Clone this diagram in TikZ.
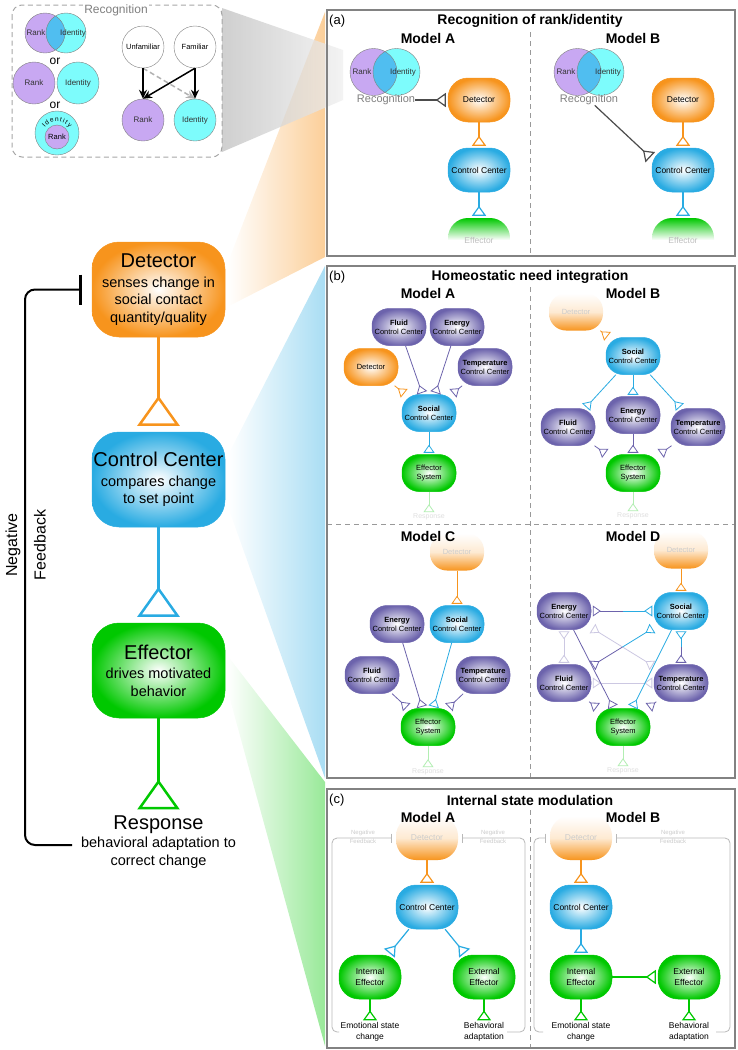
\documentclass[tikz,border=0pt]{standalone}
\usepackage{fontspec}
\setmainfont{Liberation Sans}
\usetikzlibrary{arrows.meta,decorations.text}

\begin{document}
\begin{tikzpicture}[x=1pt,y=-1pt,
  every node/.style={inner sep=0pt},
  panelframe/.style={draw=framegray, line width=1.5pt},
  divider/.style={draw=gray!80, line width=0.9pt, dash pattern=on 5pt off 4pt},
  ttl/.style={font=\bfseries\fontsize{14}{16}\selectfont},
  paneltag/.style={anchor=west, font=\fontsize{13}{15}\selectfont},
  mnode/.style={rounded corners=27pt, minimum width=133pt, minimum height=95pt, align=center, font=\fontsize{14.5}{17.5}\selectfont, line width=0.5pt},
  anode/.style={rounded corners=20pt, minimum width=62pt, minimum height=44pt, align=center, font=\fontsize{8.5}{10.5}\selectfont, line width=0.5pt},
  pnode/.style={rounded corners=17pt, minimum width=54pt, minimum height=37pt, align=center, font=\fontsize{7.5}{9}\selectfont, line width=0.5pt},
  det/.style={inner color=white, outer color=detorange, draw=detorange},
  cc/.style={inner color=white, outer color=ccblue, draw=ccblue},
  eff/.style={inner color=white, outer color=effgreen, draw=effgreen},
  hom/.style={inner color=white, outer color=hompurple, draw=hompurple},
  detfade/.style={top color=white, bottom color=detorange, middle color=detorange!20, text=gray!40},
  efffade/.style={top color=effgreen, bottom color=white, middle color=white, text=gray!50},
  bigtip/.style={line width=2.5pt, -{Triangle[open, reversed, length=30pt, width=42pt]}, shorten >=6pt},
  midtip/.style={line width=1.2pt, -{Triangle[open, reversed, length=10pt, width=14pt]}, shorten >=2pt},
  smalltip/.style={line width=0.8pt, -{Triangle[open, reversed, length=8pt, width=11pt]}, shorten >=1.5pt},
  bothtip/.style={line width=0.8pt, {Triangle[open, reversed, length=8pt, width=11pt]}-{Triangle[open, reversed, length=8pt, width=11pt]}, shorten >=1.5pt, shorten <=1.5pt},
  faint/.style={draw=hompurple!35},
  resp/.style={font=\fontsize{7}{8}\selectfont, text=gray!25},
  fbline/.style={draw=gray!55, line width=0.8pt, rounded corners=5pt, -{Bar[width=9pt]}},
  fbtext/.style={font=\fontsize{6}{9.5}\selectfont, text=gray!40, align=center},
  smalltext/.style={font=\fontsize{8.5}{11}\selectfont, align=center},
  vennlabel/.style={font=\fontsize{8}{9}\selectfont, text=black!80},
  recline/.style={draw=gray!60!black},
  recarrow/.style={line width=1.5pt, -{Stealth[length=9pt, width=8pt]}}]
\definecolor{detorange}{RGB}{247,148,29}
\definecolor{ccblue}{RGB}{41,171,226}
\definecolor{effgreen}{RGB}{0,200,0}
\definecolor{hompurple}{RGB}{108,99,172}
\definecolor{rankpurple}{RGB}{200,168,242}
\definecolor{idcyan}{RGB}{125,252,252}
\definecolor{bothblue}{RGB}{80,190,240}
\definecolor{framegray}{RGB}{130,130,130}
\useasboundingbox (0,0) rectangle (738,1050);

\shade[left color=white, right color=detorange!45] (228,262) -- (325,12) -- (325,257) -- (227,307) -- cycle;
\shade[left color=white, right color=ccblue!40] (228,455) -- (325,266) -- (325,778) -- (228,507) -- cycle;
\shade[left color=white, right color=effgreen!40] (227,655) -- (325,782) -- (325,1046) -- (228,692) -- cycle;
\fill[white] (327,10) rectangle (735,256);
\fill[white] (327,266) rectangle (735,778);
\fill[white] (327,789) rectangle (735,1048);
\shade[left color=gray!50, right color=gray!12, opacity=0.75] (222,8) -- (222,152) -- (343,100) -- (343,50) -- cycle;

% recognition inset
\draw[gray!70, line width=1pt, dash pattern=on 5pt off 3.5pt, rounded corners=10pt] (12,5) rectangle (222,157);
\node (insettitle) at (116,10) [fill=white, inner sep=1.5pt, text=gray, font=\fontsize{12}{14}\selectfont] {Recognition};
\fill[rankpurple] (45,33) circle (20pt);
\fill[idcyan] (66,33) circle (20pt);
\begin{scope}
\clip (45,33) circle (20pt);
\fill[bothblue] (66,33) circle (20pt);
\end{scope}
\draw[gray] (45,33) circle (20pt) (66,33) circle (20pt);
\node (vrank) at (36,33) [vennlabel] {Rank};
\node (vid) at (73,33) [vennlabel] {Identity};
\node (or1) at (55,61) [font=\fontsize{12}{14}\selectfont] {or};
\node (srank) at (34,83) [circle, minimum size=42pt, fill=rankpurple, draw=gray, vennlabel] {Rank};
\node (sid) at (78,83) [circle, minimum size=42pt, fill=idcyan, draw=gray, vennlabel] {Identity};
\node (or2) at (55,105) [font=\fontsize{12}{14}\selectfont] {or};
\filldraw[fill=idcyan, draw=gray] (57,133) circle (22pt);
\filldraw[fill=rankpurple, draw=gray] (57,137) circle (12pt);
\node (nrank) at (57,137) [font=\fontsize{7.5}{8}\selectfont] {Rank};
\path[decorate, decoration={text along path, text align=fit to path, text={|\fontsize{6.5}{7}\selectfont|Identity}}] (57,137) ++(142:15.5pt) arc[start angle=142, end angle=38, radius=15.5pt];
\node (unf) at (143,47) [circle, minimum size=42pt, draw=gray, fill=white, font=\fontsize{7.5}{9}\selectfont] {Unfamiliar};
\node (fam) at (195,47) [circle, minimum size=42pt, draw=gray, fill=white, font=\fontsize{7.5}{9}\selectfont] {Familiar};
\node (irank) at (143,120) [circle, minimum size=42pt, draw=gray, fill=rankpurple, vennlabel] {Rank};
\node (iid) at (195,120) [circle, minimum size=42pt, draw=gray, fill=idcyan, vennlabel] {Identity};
\draw[recarrow, gray!60, dash pattern=on 5pt off 3pt] (unf.south) -- (iid.north);
\draw[recarrow] (unf.south) -- (irank.north);
\draw[recarrow] (fam.south) -- (iid.north);
\draw[recarrow] (fam.south) -- (irank.north);

% main loop
\node (mdet) at (158.5,289.5) [mnode, det] {{\fontsize{20}{24}\selectfont Detector}\\[2pt]senses change in\\social contact\\quantity/quality};
\node (mcc) at (158.5,479.5) [mnode, cc] {{\fontsize{20}{24}\selectfont Control Center}\\[2pt]compares change\\to set point};
\node (meff) at (158.5,670.5) [mnode, eff] {{\fontsize{20}{24}\selectfont Effector}\\[2pt]drives motivated\\behavior};
\node (mresp) at (158.5,842) [align=center, font=\fontsize{14.5}{17.5}\selectfont] {{\fontsize{20}{24}\selectfont Response}\\[1pt]behavioral adaptation to\\correct change};
\draw[detorange, bigtip] (mdet) -- (mcc);
\draw[ccblue, bigtip] (mcc) -- (meff);
\draw[effgreen, bigtip] (meff) -- (mresp);
\coordinate (fbstart) at (72,845);
\coordinate (fbcorner) at (25,845);
\draw[line width=2pt, rounded corners=10pt, -{Bar[width=30pt, line width=3pt]}] (fbstart) -- (fbcorner) |- ([xshift=-10pt]mdet.west);
\node (neg) at (13,545) [rotate=90, font=\fontsize{16}{18}\selectfont] {Negative};
\node (feed) at (40,545) [rotate=90, font=\fontsize{16}{18}\selectfont] {Feedback};

% panel (a)
\draw[divider] (530,32) -- (530,256);
\fill[rankpurple] (373.5,72) circle (23.5pt);
\fill[idcyan] (396.5,72) circle (23.5pt);
\begin{scope}
\clip (373.5,72) circle (23.5pt);
\fill[bothblue] (396.5,72) circle (23.5pt);
\end{scope}
\draw[gray] (373.5,72) circle (23.5pt) (396.5,72) circle (23.5pt);
\node (arankA) at (362,72) [vennlabel] {Rank};
\node (aidA) at (403,72) [vennlabel] {Identity};
\node (recA) at (386,100) [font=\fontsize{11}{13}\selectfont, text=gray] {Recognition};
\node (detA) at (479,100) [anode, det] {Detector};
\node (ccA) at (479,170) [anode, cc] {Control Center};
\node (effA) at (479,240) [anode, efffade] {Effector};
\draw[recline, midtip] (recA) -- (detA);
\draw[detorange, midtip] (detA) -- (ccA);
\draw[ccblue, midtip] (ccA) -- (effA);
\fill[rankpurple] (577.5,72) circle (23.5pt);
\fill[idcyan] (600.5,72) circle (23.5pt);
\begin{scope}
\clip (577.5,72) circle (23.5pt);
\fill[bothblue] (600.5,72) circle (23.5pt);
\end{scope}
\draw[gray] (577.5,72) circle (23.5pt) (600.5,72) circle (23.5pt);
\node (arankB) at (566,72) [vennlabel] {Rank};
\node (aidB) at (608,72) [vennlabel] {Identity};
\node (recB) at (589,100) [font=\fontsize{11}{13}\selectfont, text=gray] {Recognition};
\node (detB) at (683,100) [anode, det] {Detector};
\node (ccB) at (683,170) [anode, cc] {Control Center};
\node (effB) at (683,240) [anode, efffade] {Effector};
\draw[recline, midtip] (recB) -- (ccB.160);
\draw[detorange, midtip] (detB) -- (ccB);
\draw[ccblue, midtip] (ccB) -- (effB);
\node (ta) at (329,21) [paneltag] {(a)};
\node (tta) at (530,21) [ttl] {Recognition of rank/identity};
\node (maA) at (428,38) [ttl] {Model A};
\node (maB) at (633,38) [ttl] {Model B};

% panel (b)
\draw[divider] (530,287) -- (530,778);
\draw[divider] (327,524) -- (735,524);

\node (flA) at (399,327) [pnode, hom] {\textbf{Fluid}\\Control Center};
\node (enA) at (457,327) [pnode, hom] {\textbf{Energy}\\Control Center};
\node (tpA) at (485,367) [pnode, hom] {\textbf{Temperature}\\Control Center};
\node (dtA) at (371,367) [pnode, det] {Detector};
\node (soA) at (429,413) [pnode, cc] {\textbf{Social}\\Control Center};
\node (esA) at (429,473) [pnode, eff] {Effector\\System};
\node (rsA) at (429,517) [resp] {Response};
\draw[hompurple, smalltip] (flA) -- (soA);
\draw[hompurple, smalltip] (enA) -- (soA);
\draw[hompurple, smalltip] (tpA) -- (soA);
\draw[detorange, smalltip] (dtA) -- (soA);
\draw[ccblue, smalltip] (soA) -- (esA);
\draw[effgreen!30, smalltip] (esA) -- (rsA);

\node (dtB) at (576,312) [pnode, detfade] {Detector};
\node (soB) at (633,356) [pnode, cc] {\textbf{Social}\\Control Center};
\node (flB) at (568,427) [pnode, hom] {\textbf{Fluid}\\Control Center};
\node (enB) at (633,415) [pnode, hom] {\textbf{Energy}\\Control Center};
\node (tpB) at (698,427) [pnode, hom] {\textbf{Temperature}\\Control Center};
\node (esB) at (633,473) [pnode, eff] {Effector\\System};
\node (rsB) at (633,516) [resp] {Response};
\draw[detorange, smalltip] (dtB) -- (soB);
\draw[ccblue, smalltip] (soB) -- (flB);
\draw[ccblue, smalltip] (soB) -- (enB);
\draw[ccblue, smalltip] (soB) -- (tpB);
\draw[hompurple, smalltip] (flB) -- (esB);
\draw[hompurple, smalltip] (enB) -- (esB);
\draw[hompurple, smalltip] (tpB) -- (esB);
\draw[effgreen!30, smalltip] (esB) -- (rsB);

\node (dtC) at (457,552) [pnode, detfade] {Detector};
\node (soC) at (457,624) [pnode, cc] {\textbf{Social}\\Control Center};
\node (enC) at (397,624) [pnode, hom] {\textbf{Energy}\\Control Center};
\node (flC) at (372,675) [pnode, hom] {\textbf{Fluid}\\Control Center};
\node (tpC) at (483,675) [pnode, hom] {\textbf{Temperature}\\Control Center};
\node (esC) at (428,727) [pnode, eff] {Effector\\System};
\node (rsC) at (428,772) [resp] {Response};
\draw[detorange, smalltip] (dtC) -- (soC);
\draw[hompurple, smalltip] (enC) -- (esC);
\draw[ccblue, smalltip] (soC) -- (esC);
\draw[hompurple, smalltip] (flC) -- (esC);
\draw[hompurple, smalltip] (tpC) -- (esC);
\draw[effgreen!30, smalltip] (esC) -- (rsC);

\node (dtD) at (681,550) [pnode, detfade] {Detector};
\node (soD) at (681,611) [pnode, cc] {\textbf{Social}\\Control Center};
\node (enD) at (564,611) [pnode, hom] {\textbf{Energy}\\Control Center};
\node (flD) at (564,683) [pnode, hom] {\textbf{Fluid}\\Control Center};
\node (tpD) at (681,683) [pnode, hom] {\textbf{Temperature}\\Control Center};
\node (esD) at (623,727) [pnode, eff] {Effector\\System};
\node (rsD) at (623,771) [resp] {Response};
\coordinate (mES) at (622.5,611);
\coordinate (mST) at (681,647);
\coordinate (mFS) at (622.5,647);
\draw[faint, bothtip] (enD) -- (flD);
\draw[faint, bothtip] (enD) -- (tpD);
\draw[faint, bothtip] (flD) -- (tpD);
\draw[hompurple, smalltip] (mES) -- (enD);
\draw[ccblue, smalltip] (mES) -- (soD);
\draw[ccblue, smalltip] (mST) -- (soD);
\draw[hompurple, smalltip] (mST) -- (tpD);
\draw[hompurple, smalltip] (mFS) -- (flD);
\draw[ccblue, smalltip] (mFS) -- (soD);
\draw[hompurple, smalltip] (enD) -- (esD);
\draw[ccblue, smalltip] (soD) -- (esD);
\draw[hompurple, smalltip] (flD) -- (esD);
\draw[hompurple, smalltip] (tpD) -- (esD);
\draw[detorange, smalltip] (dtD) -- (soD);
\draw[effgreen!30, smalltip] (esD) -- (rsD);
\node (tb) at (329,277) [paneltag] {(b)};
\node (ttb) at (530,277) [ttl] {Homeostatic need integration};
\node (mbA) at (428,293) [ttl] {Model A};
\node (mbB) at (633,293) [ttl] {Model B};
\node (mbC) at (428,536) [ttl] {Model C};
\node (mbD) at (633,536) [ttl] {Model D};

% panel (c)
\draw[divider] (530,810) -- (530,1048);
\node (dtE) at (427,838) [anode, detfade] {Detector};
\node (ccE) at (427,907) [anode, cc] {Control Center};
\node (inE) at (370,977) [anode, eff] {Internal\\Effector};
\node (exE) at (484,977) [anode, eff] {External\\Effector};
\node (emE) at (370,1032) [smalltext] {Emotional state\\change};
\node (bhE) at (484,1032) [smalltext] {Behavioral\\adaptation};
\draw[detorange, midtip] (dtE) -- (ccE);
\draw[ccblue, midtip] (ccE) -- (inE);
\draw[ccblue, midtip] (ccE) -- (exE);
\draw[effgreen, midtip] (inE) -- (emE);
\draw[effgreen, midtip] (exE) -- (bhE);
\node (nfE1) at (363,837) [fbtext] {Negative\\Feedback};
\node (nfE2) at (493,837) [fbtext] {Negative\\Feedback};
\coordinate (fbE1) at (339,1032);
\coordinate (fbE1c) at (332,1032);
\coordinate (fbE2) at (507,1032);
\coordinate (fbE2c) at (525,1032);
\draw[fbline] (fbE1) -- (fbE1c) |- ([xshift=-4pt]dtE.west);
\draw[fbline] (fbE2) -- (fbE2c) |- ([xshift=4pt]dtE.east);

\node (dtF) at (581,838) [anode, detfade] {Detector};
\node (ccF) at (581,907) [anode, cc] {Control Center};
\node (inF) at (581,977) [anode, eff] {Internal\\Effector};
\node (exF) at (689,977) [anode, eff] {External\\Effector};
\node (emF) at (581,1032) [smalltext] {Emotional state\\change};
\node (bhF) at (689,1032) [smalltext] {Behavioral\\adaptation};
\draw[detorange, midtip] (dtF) -- (ccF);
\draw[ccblue, midtip] (ccF) -- (inF);
\draw[effgreen, midtip] (inF) -- (exF);
\draw[effgreen, midtip] (inF) -- (emF);
\draw[effgreen, midtip] (exF) -- (bhF);
\node (nfF) at (673,837) [fbtext] {Negative\\Feedback};
\coordinate (fbF1) at (543,1032);
\coordinate (fbF1c) at (534,1032);
\coordinate (fbF2) at (716,1032);
\coordinate (fbF2c) at (730,1032);
\draw[fbline] (fbF1) -- (fbF1c) |- ([xshift=-4pt]dtF.west);
\draw[fbline] (fbF2) -- (fbF2c) |- ([xshift=4pt]dtF.east);
\node (tc) at (329,800) [paneltag] {(c)};
\node (ttc) at (530,800) [ttl] {Internal state modulation};
\node (mcA) at (428,817) [ttl] {Model A};
\node (mcB) at (633,817) [ttl] {Model B};

\draw[panelframe] (327,10) rectangle (735,256);
\draw[panelframe] (327,266) rectangle (735,778);
\draw[panelframe] (327,789) rectangle (735,1048);
\end{tikzpicture}
\end{document}
